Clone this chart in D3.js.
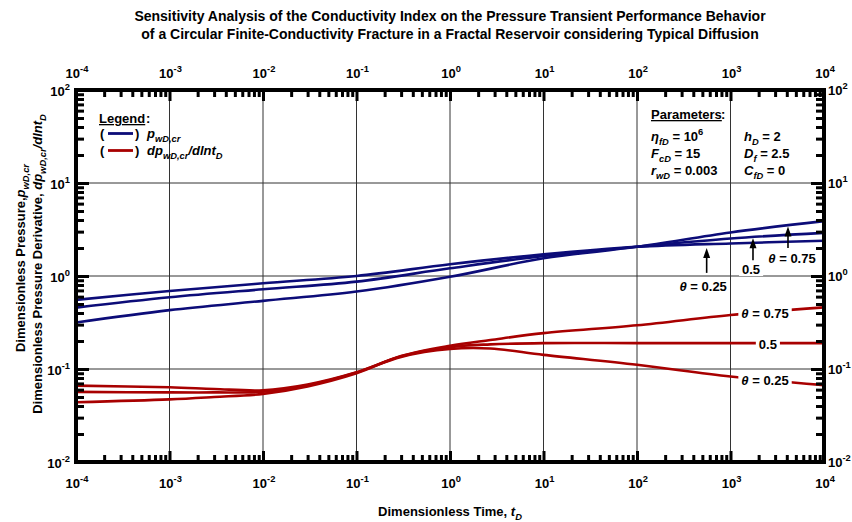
<!DOCTYPE html>
<html><head><meta charset="utf-8">
<script src="https://cdn.jsdelivr.net/npm/d3@7"></script>
<style>
html,body{margin:0;padding:0;background:#fff;}
svg{display:block;font-family:"Liberation Sans",Arial,sans-serif;}
</style></head>
<body>
<svg id="chart" width="852" height="522"></svg>
<script>
// ---------------- DATA ----------------
const timePoints = [1e-4, 1e-3, 1e-2, 1e-1, 1, 10, 100, 1e3, 1e4];
const pressTheta025 = [0.553, 0.69, 0.835, 1.0, 1.335, 1.71, 2.06, 2.24, 2.39];
const pressTheta050 = [0.457, 0.59, 0.72, 0.87, 1.21, 1.64, 2.06, 2.53, 2.91];
const pressTheta075 = [0.316, 0.43, 0.54, 0.68, 0.98, 1.55, 2.06, 2.94, 3.89];

const derivTime = [1e-4, 1e-3, 3e-3, 1e-2, 3e-2, 1e-1, 3e-1, 1, 2.7, 10, 100, 1e3, 1e4];
const derivTheta025 = [0.0662, 0.0636, 0.061, 0.059, 0.068, 0.092, 0.135, 0.164, 0.166, 0.142, 0.111, 0.083, 0.067];
const derivTheta050 = [0.0567, 0.0560, 0.056, 0.057, 0.067, 0.092, 0.137, 0.172, 0.184, 0.19, 0.19, 0.19, 0.19];
const derivTheta075 = [0.0439, 0.0471, 0.050, 0.054, 0.065, 0.090, 0.138, 0.178, 0.205, 0.243, 0.295, 0.38, 0.46];

const xTickExponents = [-4, -3, -2, -1, 0, 1, 2, 3, 4];
const yTickExponents = [-2, -1, 0, 1, 2];

const titleLines = [
  "Sensitivity Analysis of the Conductivity Index on the Pressure Transient Performance Behavior",
  "of a Circular Finite-Conductivity Fracture in a Fractal Reservoir considering Typical Diffusion"
];

// ---------------- LAYOUT ----------------
const L = 76, R = 824, T = 90, B = 462;
const BLUE = "#0c0c78", RED = "#a80000";
const svg = d3.select("#chart");

const x = d3.scaleLog().domain([1e-4, 1e4]).range([L, R]);
const y = d3.scaleLog().domain([1e-2, 1e2]).range([B, T]);

function rich(sel, segs, size) {
  let off = 0;
  segs.forEach(([txt, kind]) => {
    const ts = sel.append("tspan").text(txt);
    let target = 0, fs = size;
    if (kind && kind.includes("sub")) { target = size * 0.3; fs = size * 0.72; }
    if (kind && kind.includes("sup")) { target = -size * 0.45; fs = size * 0.72; }
    ts.attr("dy", target - off).attr("font-size", fs);
    if (kind && kind.includes("i")) ts.attr("font-style", "italic");
    off = target;
  });
  return sel;
}

// ---------------- GRID ----------------
const g = svg.append("g");
xTickExponents.slice(1, -1).forEach(e => {
  g.append("line").attr("x1", x(10 ** e)).attr("x2", x(10 ** e))
    .attr("y1", T).attr("y2", B).attr("stroke", "#333").attr("stroke-width", 1);
});
yTickExponents.slice(1, -1).forEach(e => {
  g.append("line").attr("y1", y(10 ** e)).attr("y2", y(10 ** e))
    .attr("x1", L).attr("x2", R).attr("stroke", "#333").attr("stroke-width", 1);
});

// ---------------- CURVES ----------------
const line = d3.line().x(d => x(d[0])).y(d => y(d[1])).curve(d3.curveCatmullRom.alpha(0.5));
const curves = [
  [timePoints, pressTheta025, BLUE], [timePoints, pressTheta050, BLUE], [timePoints, pressTheta075, BLUE],
  [derivTime, derivTheta025, RED], [derivTime, derivTheta050, RED], [derivTime, derivTheta075, RED]
];
svg.append("clipPath").attr("id", "pc").append("rect")
  .attr("x", L).attr("y", T).attr("width", R - L).attr("height", B - T);
curves.forEach(([ts, vs, col]) => {
  svg.append("path").datum(ts.map((t, i) => [t, vs[i]]))
    .attr("d", line).attr("fill", "none").attr("stroke", col)
    .attr("stroke-width", 2.6).attr("clip-path", "url(#pc)");
});

// ---------------- AXES (ticks inward) ----------------
function minorTicks(lo, hi) {
  const out = [];
  for (let e = lo; e < hi; e++) for (let m = 2; m <= 9; m++) out.push(m * 10 ** e);
  return out;
}
const majX = xTickExponents.map(e => 10 ** e);
const majY = yTickExponents.map(e => 10 ** e);

function tickAxis(axisGen, transform, vals, size) {
  const a = svg.append("g").attr("transform", transform)
    .call(axisGen.tickValues(vals).tickSize(size).tickFormat(""));
  a.select(".domain").remove();
  a.selectAll(".tick line").attr("stroke", "#000").attr("stroke-width", 3);
}
tickAxis(d3.axisTop(x), `translate(0,${B})`, minorTicks(-4, 4), 7);
tickAxis(d3.axisTop(x), `translate(0,${B})`, majX, 11);
tickAxis(d3.axisBottom(x), `translate(0,${T})`, minorTicks(-4, 4), 7);
tickAxis(d3.axisBottom(x), `translate(0,${T})`, majX, 11);
tickAxis(d3.axisRight(y), `translate(${L},0)`, minorTicks(-2, 2), 8);
tickAxis(d3.axisRight(y), `translate(${L},0)`, majY, 13);
tickAxis(d3.axisLeft(y), `translate(${R},0)`, minorTicks(-2, 2), 8);
tickAxis(d3.axisLeft(y), `translate(${R},0)`, majY, 13);

svg.append("rect").attr("x", L).attr("y", T).attr("width", R - L).attr("height", B - T)
  .attr("fill", "none").attr("stroke", "#000").attr("stroke-width", 4);

// tick labels
xTickExponents.forEach(e => {
  [B + 26, T - 12].forEach(yy => {
    const t = svg.append("text").attr("x", x(10 ** e) + 1).attr("y", yy)
      .attr("text-anchor", "middle").attr("font-weight", "bold").attr("font-size", 13);
    rich(t, [["10", "n"], [String(e), "sup"]], 13);
  });
});
yTickExponents.forEach(e => {
  const t = svg.append("text").attr("x", L - 6).attr("y", y(10 ** e) + 6)
    .attr("text-anchor", "end").attr("font-weight", "bold").attr("font-size", 13);
  rich(t, [["10", "n"], [String(e), "sup"]], 13);
  const t2 = svg.append("text").attr("x", R + 4).attr("y", y(10 ** e) + 5)
    .attr("text-anchor", "start").attr("font-weight", "bold").attr("font-size", 13);
  rich(t2, [["10", "n"], [String(e), "sup"]], 13);
});

// ---------------- TITLES ----------------
titleLines.forEach((s, i) => {
  svg.append("text").attr("x", 450).attr("y", 21 + i * 18).attr("text-anchor", "middle")
    .attr("font-weight", "bold").attr("font-size", 14).text(s);
});
const xl = svg.append("text").attr("x", 450).attr("y", 516).attr("text-anchor", "middle")
  .attr("font-weight", "bold").attr("font-size", 13);
rich(xl, [["Dimensionless Time, ", "n"], ["t", "i"], ["D", "isub"]], 13);

const yl1 = svg.append("text").attr("transform", "translate(25,258) rotate(-90)")
  .attr("text-anchor", "middle").attr("font-weight", "bold").attr("font-size", 13);
rich(yl1, [["Dimensionless Pressure,", "n"], ["p", "i"], ["wD,cr", "isub"]], 13);
const yl2 = svg.append("text").attr("transform", "translate(42,264) rotate(-90)")
  .attr("text-anchor", "middle").attr("font-weight", "bold").attr("font-size", 13);
rich(yl2, [["Dimensionless Pressure Derivative, ", "n"], ["dp", "i"], ["wD,cr", "isub"], ["/dlnt", "i"], ["D", "isub"]], 13);

// ---------------- LEGEND ----------------
const lg = svg.append("g").attr("font-weight", "bold").attr("font-size", 13);
lg.append("text").attr("x", 99).attr("y", 123).attr("text-decoration", "underline").text("Legend");
lg.append("text").attr("x", 99 + 47).attr("y", 123).text(":");
[[BLUE, [["p", "i"], ["wD,cr", "isub"]], 138], [RED, [["dp", "i"], ["wD,cr", "isub"], ["/dlnt", "i"], ["D", "isub"]], 155]]
  .forEach(([col, segs, yy]) => {
    lg.append("text").attr("x", 100).attr("y", yy).text("(");
    lg.append("line").attr("x1", 108).attr("x2", 133).attr("y1", yy - 4.5).attr("y2", yy - 4.5)
      .attr("stroke", col).attr("stroke-width", 2.8);
    lg.append("text").attr("x", 135).attr("y", yy).text(")");
    rich(lg.append("text").attr("x", 147).attr("y", yy), segs, 13);
  });

// ---------------- PARAMETERS ----------------
const pg = svg.append("g").attr("font-weight", "bold").attr("font-size", 13);
pg.append("text").attr("x", 651).attr("y", 119).attr("text-decoration", "underline").text("Parameters");
pg.append("text").attr("x", 651 + 70).attr("y", 119).text(":");
const params = [
  [651, 141, [["η", "i"], ["fD", "isub"], [" = 10", "n"], ["6", "sup"]]],
  [651, 158, [["F", "i"], ["cD", "isub"], [" = 15", "n"]]],
  [651, 175, [["r", "i"], ["wD", "isub"], [" = 0.003", "n"]]],
  [744, 141, [["h", "i"], ["D", "isub"], [" = 2", "n"]]],
  [744, 158, [["D", "i"], ["f", "isub"], [" = 2.5", "n"]]],
  [744, 175, [["C", "i"], ["fD", "isub"], [" = 0", "n"]]]
];
params.forEach(([px, py, segs]) => rich(pg.append("text").attr("x", px).attr("y", py), segs, 13));

// ---------------- ANNOTATIONS ----------------
const arrows = [[556, 1.08, 2.0], [1740, 1.48, 2.55], [4120, 2.0, 3.4]];
arrows.forEach(([t, v0, v1]) => {
  svg.append("line").attr("x1", x(t)).attr("x2", x(t)).attr("y1", y(v0)).attr("y2", y(v1) + 8)
    .attr("stroke", "#000").attr("stroke-width", 1.6);
  svg.append("path").attr("d", `M${x(t) - 3.5},${y(v1) + 10} L${x(t)},${y(v1)} L${x(t) + 3.5},${y(v1) + 10} Z`)
    .attr("fill", "#000");
});

const labels = [
  [510, 0.78, true, false],
  [1660, 1.19, false, true],
  [4550, 1.56, true, false],
  [2340, 0.401, true, true],
  [2510, 0.187, false, true],
  [2340, 0.077, true, true]
];
const labelTexts = ["0.25", "0.5", "0.75", "0.75", "0.5", "0.25"];
labels.forEach(([t, v, withTheta, bg], i) => {
  const grp = svg.append("g");
  const tx = grp.append("text").attr("x", x(t)).attr("y", y(v) + 5).attr("text-anchor", "middle")
    .attr("font-weight", "bold").attr("font-size", 13);
  const segs = withTheta ? [["θ", "i"], [" = " + labelTexts[i], "n"]] : [[labelTexts[i], "n"]];
  rich(tx, segs, 13);
  if (bg) {
    const bb = tx.node().getBBox();
    grp.insert("rect", "text").attr("x", bb.x - 3).attr("y", bb.y + 1).attr("width", bb.width + 6)
      .attr("height", bb.height - 2).attr("fill", "#fff");
  }
});
</script>
</body></html>
